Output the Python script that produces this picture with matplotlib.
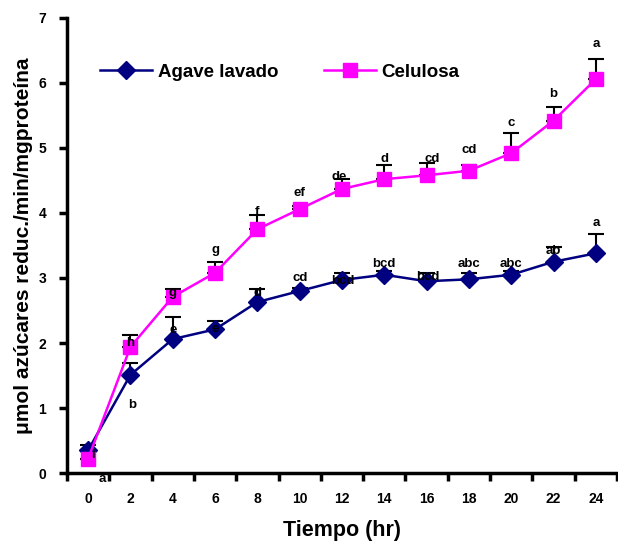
import numpy as np
import matplotlib.pyplot as plt

plt.rcParams['font.family'] = ['Liberation Sans', 'DejaVu Sans']
plt.rcParams['font.weight'] = 'bold'

# data
horas = ['0', '2', '4', '6', '8', '10', '12', '14', '16', '18', '20', '22', '24']
agave = [0.35, 1.51, 2.06, 2.21, 2.63, 2.80, 2.97, 3.05, 2.95, 2.98, 3.05, 3.25, 3.38]
agave_err = [0.08, 0.18, 0.34, 0.13, 0.20, 0.04, 0.10, 0.05, 0.12, 0.10, 0.05, 0.22, 0.30]
celulosa = [0.22, 1.94, 2.71, 3.08, 3.75, 4.06, 4.37, 4.52, 4.58, 4.65, 4.92, 5.42, 6.06]
celulosa_err = [0.0, 0.18, 0.12, 0.17, 0.22, 0.04, 0.15, 0.22, 0.19, 0.09, 0.31, 0.21, 0.31]
agave_letras = ['a', 'b', 'e', 'e', 'd', 'cd', 'bcd', 'bcd', 'bcd', 'abc', 'abc', 'ab', 'a']
celulosa_letras = ['i', 'h', 'g', 'g', 'f', 'ef', 'de', 'd', 'cd', 'cd', 'c', 'b', 'a']

# label offsets in pixels (dx, dy) from each point
agave_off = [(14, -29), (2, -30), (0, 9), (0, 0), (0, 9), (0, 13), (1, -1), (0, 11),
             (1, 4), (0, 15), (0, 11), (0, 11), (0, 30)]
celulosa_off = [(5, 4), (0, 4), (0, 4), (0, 23), (0, 17), (0, 16), (-3, 12), (0, 20),
                (6, 16), (0, 21), (0, 30), (0, 27), (0, 35)]

x = np.arange(len(horas))

fig = plt.figure(figsize=(6.18, 5.42), dpi=100)
ax = fig.add_axes([0.1084, 0.1273, 0.89, 0.8395])

ax.errorbar(x, agave, yerr=[np.zeros(len(x)), agave_err], fmt='none', ecolor='black',
            elinewidth=1.5, capsize=6, capthick=1.5, zorder=2)
ax.errorbar(x, celulosa, yerr=[np.zeros(len(x)), celulosa_err], fmt='none', ecolor='black',
            elinewidth=1.5, capsize=6, capthick=1.5, zorder=2)
ax.plot(x, agave, color='#000080', marker='D', markersize=9, linewidth=1.8,
        label='Agave lavado', zorder=3)
ax.plot(x, celulosa, color='#FF00FF', marker='s', markersize=10, linewidth=1.8,
        label='Celulosa', zorder=3)

for i in range(len(x)):
    ax.annotate(agave_letras[i], (x[i], agave[i]), xytext=agave_off[i],
                textcoords='offset pixels', ha='center', va='center',
                fontsize=9.5, fontweight='bold', zorder=4)
    ax.annotate(celulosa_letras[i], (x[i], celulosa[i]), xytext=celulosa_off[i],
                textcoords='offset pixels', ha='center', va='center',
                fontsize=9.5, fontweight='bold', zorder=4)

ax.set_xlim(-0.5, 12.5)
ax.set_ylim(0, 7)
ax.set_yticks(range(8))
ax.set_xticks(x)
ax.set_xticklabels(horas)
ax.set_xticks(np.arange(-0.5, 12.6, 1), minor=True)
ax.tick_params(axis='x', which='major', length=0, pad=14, labelsize=10)
ax.tick_params(axis='x', which='minor', length=6, width=2.5, direction='out')
ax.tick_params(axis='y', length=6, width=2.5, direction='out', pad=9, labelsize=10)

for s in ['top', 'right']:
    ax.spines[s].set_visible(False)
for s in ['left', 'bottom']:
    ax.spines[s].set_linewidth(2.5)

ax.set_xlabel('Tiempo (hr)', fontsize=15.5, fontweight='bold', labelpad=10)
ax.set_ylabel('μmol azúcares reduc./min/mgproteína', fontsize=15, fontweight='bold',
              labelpad=4)

ax.legend(loc='center left', bbox_to_anchor=(0.06, 0.881), ncol=2, frameon=False,
          prop={'weight': 'bold', 'size': 13.5}, handlelength=2.8,
          columnspacing=2.4, handletextpad=0.3, borderaxespad=0, borderpad=0)

fig.savefig('out.png', dpi=100)
